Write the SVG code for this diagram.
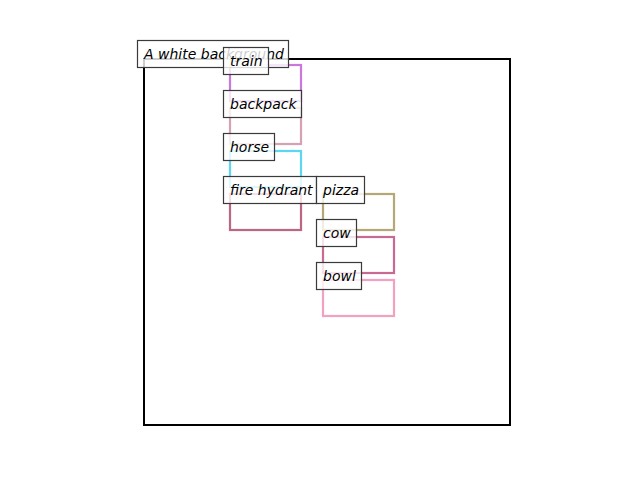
<svg xmlns="http://www.w3.org/2000/svg" width="640" height="480" viewBox="0 0 640 480">
<style>
.box{fill:none;stroke-width:2.2;opacity:0.85}
.lbl rect{fill:#fff;fill-opacity:0.8;stroke:#3a3a3a;stroke-width:1.2}
.lbl text{font-family:"DejaVu Sans",sans-serif;font-style:italic;font-size:14px;fill:#000}
</style>
<rect x="0" y="0" width="640" height="480" fill="#fff"/>
<rect id="frame" x="144" y="59" width="366" height="366" fill="none" stroke="#000" stroke-width="2"/>
<g id="connectors">
<rect class="box" x="230" y="65" width="71" height="36" stroke="#c060d8"/>
<rect class="box" x="230" y="108" width="71" height="36" stroke="#d090a8"/>
<rect class="box" x="230" y="151" width="71" height="36" stroke="#40d0f0"/>
<rect class="box" x="230" y="194" width="71" height="36" stroke="#b04a6e"/>
<rect class="box" x="323" y="194" width="71" height="36" stroke="#a89860"/>
<rect class="box" x="323" y="237" width="71" height="36" stroke="#c05080"/>
<rect class="box" x="323" y="280" width="71" height="36" stroke="#f090b8"/>
</g>
<g id="bg" class="lbl"><rect x="137.5" y="40.5" width="151" height="27"/><text x="144" y="59">A white background</text></g>
<g id="train" class="lbl"><rect x="223.5" y="47.5" width="45" height="27"/><text x="230" y="66">train</text></g>
<g id="backpack" class="lbl"><rect x="223.5" y="90.5" width="78" height="27"/><text x="230" y="109">backpack</text></g>
<g id="horse" class="lbl"><rect x="223.5" y="133.5" width="51" height="27"/><text x="230" y="152">horse</text></g>
<g id="firehydrant" class="lbl"><rect x="223.5" y="176.5" width="93" height="27"/><text x="230" y="195">fire hydrant</text></g>
<g id="pizza" class="lbl"><rect x="316.5" y="176.5" width="48" height="27"/><text x="323" y="195">pizza</text></g>
<g id="cow" class="lbl"><rect x="316.5" y="219.5" width="40" height="27"/><text x="323" y="238">cow</text></g>
<g id="bowl" class="lbl"><rect x="316.5" y="262.5" width="45" height="27"/><text x="323" y="281">bowl</text></g>
</svg>
